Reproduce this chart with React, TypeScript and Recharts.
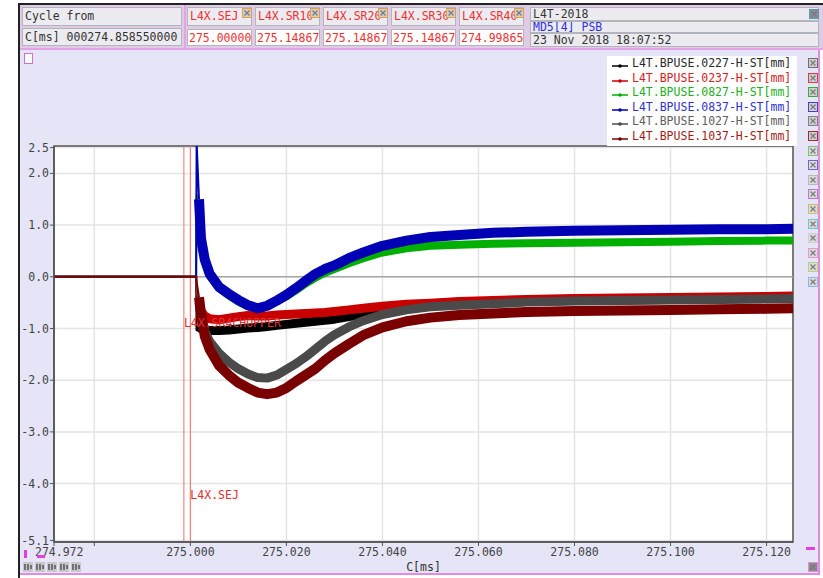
import React from 'react';
import { CartesianGrid, Line, LineChart, ReferenceArea, ReferenceDot, ReferenceLine, XAxis, YAxis } from 'recharts';

const MONO = '"DejaVu Sans Mono", "Liberation Mono", monospace';

// Acquisition time base, C[ms]
const TIMES = [
  274.9716, 275.0012, 275.0013, 275.0018, 275.0022, 275.003, 275.004, 275.006, 275.008, 275.01, 275.012, 275.014,
  275.016, 275.018, 275.02, 275.022, 275.024, 275.026, 275.028, 275.03, 275.033, 275.036, 275.04, 275.045,
  275.05, 275.056, 275.063, 275.07, 275.08, 275.09, 275.1, 275.11, 275.12, 275.1255,
];

// Horizontal beam position per pickup [mm]
const BPUSE_0227 = [
  0, 0, -1.05, -0.95, -1.0, -1.03, -1.04, -1.04, -1.03, -1.01, -0.99, -0.98, -0.96, -0.94, -0.92, -0.9, -0.88,
  -0.86, -0.84, -0.82, -0.77, -0.73, -0.66, -0.6, -0.56, -0.52, -0.5, -0.48, -0.46, -0.45, -0.44, -0.43, -0.42, -0.41,
];
const BPUSE_0237 = [
  0, 0, -0.3, -0.55, -0.66, -0.76, -0.81, -0.83, -0.8, -0.77, -0.75, -0.76, -0.76, -0.74, -0.73, -0.72, -0.71,
  -0.7, -0.69, -0.67, -0.64, -0.61, -0.57, -0.53, -0.51, -0.48, -0.46, -0.44, -0.42, -0.41, -0.4, -0.39, -0.38, -0.37,
];
const BPUSE_0827 = [
  0, 0, 1.6, 1.2, 0.7, 0.3, 0.02, -0.22, -0.36, -0.48, -0.57, -0.62, -0.57, -0.47, -0.38, -0.26, -0.13, -0.02,
  0.08, 0.15, 0.26, 0.36, 0.47, 0.55, 0.6, 0.62, 0.64, 0.65, 0.66, 0.67, 0.68, 0.69, 0.7, 0.7,
];
const BPUSE_0837 = [
  0, 0, 2.6, 1.5, 0.75, 0.33, 0.06, -0.2, -0.33, -0.45, -0.55, -0.61, -0.56, -0.46, -0.35, -0.22, -0.08, 0.05,
  0.15, 0.22, 0.36, 0.47, 0.6, 0.7, 0.77, 0.81, 0.85, 0.87, 0.89, 0.9, 0.91, 0.92, 0.92, 0.93,
];
const BPUSE_1027 = [
  0, 0, -0.2, -0.5, -0.75, -1.05, -1.25, -1.48, -1.65, -1.78, -1.88, -1.95, -1.96, -1.9, -1.79, -1.68, -1.55,
  -1.4, -1.25, -1.12, -0.97, -0.85, -0.73, -0.64, -0.58, -0.55, -0.52, -0.49, -0.47, -0.46, -0.45, -0.44, -0.43, -0.42,
];
const BPUSE_1037 = [
  0, 0, -0.1, -0.4, -0.7, -1.15, -1.4, -1.72, -1.9, -2.05, -2.15, -2.24, -2.27, -2.24, -2.15, -2.02, -1.9,
  -1.78, -1.62, -1.48, -1.3, -1.13, -0.98, -0.86, -0.79, -0.74, -0.71, -0.68, -0.66, -0.65, -0.64, -0.63, -0.62, -0.61,
];

// index where the noisy post-trigger band starts
const TRIGGER_IDX = 3;

const SERIES = [
  { key: 'b0227', name: 'L4T.BPUSE.0227-H-ST[mm]', color: '#000000', text: '#2a2a2a', box: '#707070', width: 9, values: BPUSE_0227 },
  { key: 'b0237', name: 'L4T.BPUSE.0237-H-ST[mm]', color: '#c80000', text: '#d42222', box: '#d04040', width: 9, values: BPUSE_0237 },
  { key: 'b0827', name: 'L4T.BPUSE.0827-H-ST[mm]', color: '#00b000', text: '#22b022', box: '#30b030', width: 8, values: BPUSE_0827 },
  { key: 'b0837', name: 'L4T.BPUSE.0837-H-ST[mm]', color: '#0000b4', text: '#3232d2', box: '#4040c8', width: 10, values: BPUSE_0837 },
  { key: 'b1027', name: 'L4T.BPUSE.1027-H-ST[mm]', color: '#4a4a4a', text: '#606060', box: '#808080', width: 9, values: BPUSE_1027 },
  { key: 'b1037', name: 'L4T.BPUSE.1037-H-ST[mm]', color: '#7a0000', text: '#a01c1c', box: '#a03030', width: 10, values: BPUSE_1037 },
];

const X_MIN = 274.9716;
const X_MAX = 275.1255;
const Y_MIN = -5.13;
const Y_MAX = 2.53;
const X_TICKS = [X_MIN, 274.98, 275.0, 275.02, 275.04, 275.06, 275.08, 275.1, 275.12];
const X_UNLABELLED = 274.98;
const Y_TICKS = [-5.1, -4, -3, -2, -1, 0, 1, 2, 2.5];

// timing markers shown in the header
const MARKER_NAMES = ['L4X.SEJ', 'L4X.SR10', 'L4X.SR20', 'L4X.SR30', 'L4X.SR40'];
const MARKER_TIMES = ['275.00000', '275.14867', '275.14867', '275.14867', '274.99865'];
const SEJ_T = 275.0;
const SR40_T = 274.99865;

const SPARE_BOX_COLORS = ['#7cc07c', '#6a6ac8', '#b8b8b8', '#b57ac8', '#c8c070', '#6cc4c4', '#cfcfcf', '#e49ac4', '#b4d47c', '#8cb8e4'];

const rows = TIMES.map((t, i) => {
  const row: Record<string, number | null> = { t };
  SERIES.forEach((s) => {
    row[s.key] = i >= TRIGGER_IDX ? s.values[i] : null;
    row[`${s.key}Pre`] = i <= TRIGGER_IDX ? s.values[i] : null;
  });
  return row;
});

const ROW_H = 14.6;

function XTick({ x, y, payload }: any) {
  const v = payload.value as number;
  if (v === X_UNLABELLED) return <g />;
  const first = v === X_MIN;
  return (
    <text x={first ? x - 19 : x} y={y} dy="0.71em" textAnchor={first ? 'start' : 'middle'} fill="#444" fontFamily={MONO} fontSize={11.5}>
      {v.toFixed(3)}
    </text>
  );
}

function CheckBox({ left, top, border, fill = '#cfcfcf' }: { left: number; top: number; border: string; fill?: string }) {
  return (
    <div style={{ position: 'absolute', left, top, width: 8, height: 8, border: `1px solid ${border}`, background: fill }}>
      <svg width={8} height={8} style={{ display: 'block' }}>
        <path d="M1.5 1.5 L6.5 6.5 M6.5 1.5 L1.5 6.5" stroke="#7a7a7a" strokeWidth={1.2} />
      </svg>
    </div>
  );
}

const cell: React.CSSProperties = {
  position: 'absolute',
  boxSizing: 'border-box',
  background: '#ebebf0',
  border: '1px solid #b4b4bc',
  whiteSpace: 'nowrap',
  overflow: 'hidden',
  paddingLeft: 2,
  lineHeight: '16px',
};

function Header() {
  return (
    <>
      <div style={{ position: 'absolute', left: 18, top: 3, width: 805, height: 2, background: '#222' }} />
      <div style={{ position: 'absolute', left: 20, top: 5, width: 803, height: 43, background: '#dfcbe6' }} />
      <div style={{ position: 'absolute', left: 20, top: 48, width: 803, height: 2, background: '#e6a2e6' }} />
      <div style={{ ...cell, left: 22, top: 7, width: 160, height: 19, color: '#333' }}>Cycle from</div>
      <div style={{ ...cell, left: 22, top: 28, width: 160, height: 18, color: '#333' }}>C[ms] 000274.858550000</div>
      <div style={{ position: 'absolute', left: 184, top: 5, width: 2, height: 43, background: '#e6a2e6' }} />
      {MARKER_NAMES.map((name, i) => {
        const left = 187 + i * 68;
        return (
          <React.Fragment key={name}>
            <div style={{ ...cell, left, top: 7, width: 65, height: 19, color: '#f03030' }}>{name}</div>
            <CheckBox left={left + 55} top={8} border="#e0a040" />
            <div style={{ ...cell, left, top: 29, width: 65, height: 17, background: '#fff', color: '#f03030', paddingLeft: 1 }}>
              {MARKER_TIMES[i]}
            </div>
          </React.Fragment>
        );
      })}
      <div style={{ ...cell, left: 530, top: 7, width: 289, height: 14, lineHeight: '13px', color: '#333' }}>L4T-2018</div>
      <div style={{ ...cell, left: 530, top: 21, width: 289, height: 12, lineHeight: '11px', color: '#3030e0' }}>MD5[4] PSB</div>
      <div style={{ ...cell, left: 530, top: 33, width: 289, height: 14, lineHeight: '13px', color: '#333' }}>23 Nov 2018 18:07:52</div>
      <CheckBox left={809} top={9} border="#4aa0b0" fill="#8a8a9a" />
    </>
  );
}

function SeriesLegend() {
  return (
    <div style={{ position: 'absolute', left: 607, top: 56, width: 190, height: 90, background: '#fff' }}>
      {SERIES.map((s, i) => (
        <div key={s.key} style={{ position: 'absolute', left: 5, top: i * ROW_H, height: 14, lineHeight: '14px', whiteSpace: 'nowrap', color: s.text }}>
          <svg width={16} height={14} style={{ position: 'absolute', left: 0, top: 0 }}>
            <line x1={0} y1={10} x2={16} y2={10} stroke={s.color} strokeWidth={1.5} />
            <circle cx={8} cy={10} r={1.8} fill={s.color} />
          </svg>
          <span style={{ position: 'absolute', left: 20 }}>{s.name}</span>
        </div>
      ))}
    </div>
  );
}

export default function App() {
  return (
    <div style={{ position: 'fixed', left: 0, top: 0, width: 823, height: 578, background: '#fff', overflow: 'hidden', fontFamily: MONO, fontSize: 11.5 }}>
      <div style={{ position: 'absolute', left: 18, top: 3, width: 2, height: 575, background: '#222' }} />
      <Header />
      {/* plot panel */}
      <div style={{ position: 'absolute', left: 20, top: 50, width: 798, height: 523, background: '#e5e5f7' }} />
      <div style={{ position: 'absolute', left: 818, top: 50, width: 2, height: 525, background: '#e08ce0' }} />
      <div style={{ position: 'absolute', left: 20, top: 573, width: 800, height: 2, background: '#e08ce0' }} />
      <div style={{ position: 'absolute', left: 24, top: 53, width: 7, height: 9, background: '#fff', border: '1px solid #d070d0' }} />

      <div style={{ position: 'absolute', left: 0, top: 0 }}>
        <LineChart width={823} height={578} data={rows} margin={{ top: 146, right: 30, bottom: 6, left: 14 }}>
          <CartesianGrid fill="#ffffff" stroke="#e4e4e4" strokeWidth={1.5} />
          <XAxis
            type="number"
            dataKey="t"
            domain={[X_MIN, X_MAX]}
            ticks={X_TICKS}
            interval={0}
            allowDataOverflow
            height={30}
            tickSize={4}
            tick={<XTick />}
            tickLine={{ stroke: '#555' }}
            axisLine={{ stroke: '#555', strokeWidth: 1.5 }}
            label={{ value: 'C[ms]', position: 'insideBottom', offset: 1, fill: '#333', fontFamily: MONO, fontSize: 11.5 }}
          />
          <YAxis
            type="number"
            domain={[Y_MIN, Y_MAX]}
            ticks={Y_TICKS}
            interval={0}
            allowDataOverflow
            width={40}
            tickSize={4}
            tickMargin={1}
            tickFormatter={(v: number) => v.toFixed(1)}
            tick={{ fill: '#444', fontFamily: MONO, fontSize: 11.5 }}
            tickLine={{ stroke: '#555' }}
            axisLine={{ stroke: '#555', strokeWidth: 1.5 }}
          />
          <ReferenceLine y={0} stroke="#a6a6a6" strokeWidth={1.5} />
          <ReferenceLine x={SR40_T} stroke="#f07070" strokeWidth={1} />
          <ReferenceLine x={SEJ_T} stroke="#f07070" strokeWidth={1} />
          <ReferenceDot
            x={SR40_T}
            y={-0.89}
            r={0}
            label={{ value: 'L4X.SR4CHOPPER', position: 'right', offset: 0, fill: '#e03030', fontFamily: MONO, fontSize: 11.5 }}
          />
          <ReferenceDot
            x={SEJ_T}
            y={-4.22}
            r={0}
            label={{ value: 'L4X.SEJ', position: 'right', offset: 0, fill: '#e03030', fontFamily: MONO, fontSize: 11.5 }}
          />
          {SERIES.map((s) => (
            <Line
              key={`${s.key}Pre`}
              type="linear"
              dataKey={`${s.key}Pre`}
              stroke={s.color}
              strokeWidth={2}
              dot={false}
              activeDot={false}
              legendType="none"
              isAnimationActive={false}
            />
          ))}
          {SERIES.map((s) => (
            <Line
              key={s.key}
              type="linear"
              dataKey={s.key}
              name={s.name}
              stroke={s.color}
              strokeWidth={s.width}
              strokeLinejoin="round"
              dot={false}
              activeDot={false}
              isAnimationActive={false}
            />
          ))}
          <ReferenceArea x1={X_MIN} x2={X_MAX} y1={Y_MIN} y2={Y_MAX} fill="none" stroke="#555" strokeWidth={1.5} />
        </LineChart>
      </div>

      <SeriesLegend />
      {SERIES.map((s, i) => (
        <CheckBox key={s.key} left={808} top={58 + i * ROW_H} border={s.box} />
      ))}
      {SPARE_BOX_COLORS.map((c, i) => (
        <CheckBox key={c} left={808} top={58 + (SERIES.length + i) * ROW_H} border={c} fill="#dcdcdc" />
      ))}

      {/* toolbar glyphs under the plot */}
      <div style={{ position: 'absolute', left: 24, top: 550, width: 3, height: 8, background: '#e040e0' }} />
      <div style={{ position: 'absolute', left: 37, top: 555, width: 8, height: 3, background: '#e040e0' }} />
      {[0, 1, 2, 3, 4].map((i) => (
        <div key={i} style={{ position: 'absolute', left: 23 + i * 12, top: 562, width: 10, height: 10, background: '#c8c8cc' }}>
          <svg width={10} height={10} style={{ display: 'block' }}>
            <path d="M2 2 V8 M5 2 V8 M8 3 V7" stroke="#444" strokeWidth={1.3} />
          </svg>
        </div>
      ))}
      <div style={{ position: 'absolute', left: 806, top: 547, width: 9, height: 3, background: '#e040e0' }} />
      <CheckBox left={808} top={562} border="#e08ce0" fill="#8a8a8a" />
    </div>
  );
}
